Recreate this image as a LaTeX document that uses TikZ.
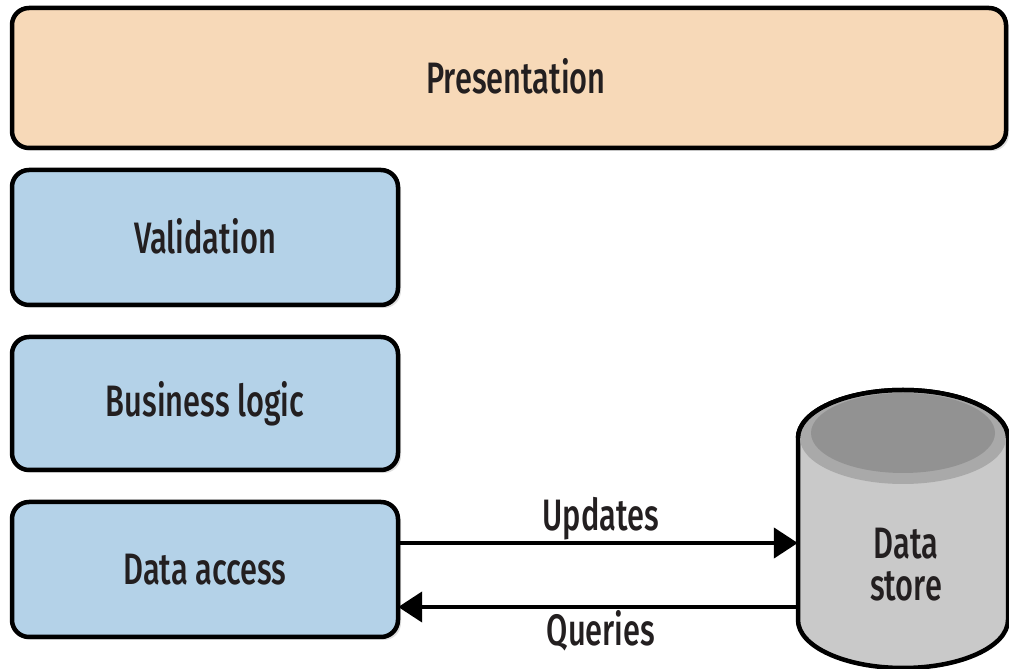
\documentclass[tikz,border=0pt]{standalone}
\usepackage{fontspec}
\setmainfont{Fira Sans}[FakeStretch=0.7, UprightFont={* Medium}]
\usetikzlibrary{arrows.meta,shadows}
\definecolor{peach}{HTML}{F7D9B8}
\definecolor{lblue}{HTML}{B4D2E8}
\definecolor{cylbody}{HTML}{C9C9C9}
\definecolor{cylring}{HTML}{A9A9A9}
\definecolor{cylin}{HTML}{929292}
\definecolor{txt}{HTML}{231F20}
\tikzset{
  layer/.style={draw=black, line width=4.5pt, rounded corners=17pt, fill=lblue,
    drop shadow={opacity=0.25, shadow xshift=3pt, shadow yshift=-3pt}},
  flow/.style={draw=black, line width=4.5pt, -{Triangle[length=24pt,width=30pt]}},
  lbl/.style={font=\fontsize{44}{46}\selectfont, text=txt}
}
\begin{document}
\begin{tikzpicture}[x=1pt,y=1pt]
\useasboundingbox (0,0) rectangle (1009,669);
\fill[white] (0,0) rectangle (1009,669);
% layers
\path[layer, fill=peach] (12,521) rectangle (1006,661);
\node[lbl] (pres) at (516,593) {Presentation};
\path[layer] (12,364) rectangle (398,499);
\node[lbl] (val) at (205,433) {Validation};
\path[layer] (12,199) rectangle (398,332);
\node[lbl] (bl) at (205,265) {Business logic};
\path[layer] (12,32) rectangle (398,167);
\node[lbl] (da) at (205,99) {Data access};
\node[minimum width=386pt, minimum height=135pt, inner sep=0pt] (dabox) at (205,99.5) {};
% cylinder
\filldraw[fill=cylbody, draw=black, line width=4.5pt]
  (798,231) -- (798,49) arc[start angle=180, end angle=360, x radius=105, y radius=48]
  -- (1008,231) arc[start angle=0, end angle=180, x radius=105, y radius=48] -- cycle;
\fill[cylring] (903,231) ellipse[x radius=103, y radius=46];
\fill[cylin] (903,236) ellipse[x radius=92, y radius=40];
\draw[black, line width=4.5pt] (798,231) arc[start angle=180, end angle=0, x radius=105, y radius=48];
\node[minimum width=210pt, minimum height=230pt, inner sep=0pt] (ds) at (903,140) {};
\node[lbl, align=center] (dst) at (906,104) {Data\\[-4pt]store};
% connectors
\draw[flow] (dabox.east |- 0,126) -- (ds.west |- 0,126);
\draw[flow] (ds.west |- 0,62) -- (dabox.east |- 0,62);
\node[lbl] (upd) at (601,150) {Updates};
\node[lbl] (qry) at (601,38) {Queries};
\end{tikzpicture}
\end{document}
